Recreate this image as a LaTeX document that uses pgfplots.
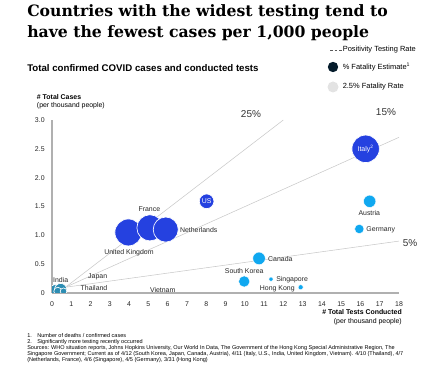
\documentclass[border=0pt]{standalone}
\usepackage{fontspec}
\setmainfont{Liberation Sans}
\newfontfamily\titlefont{DejaVu Serif}
\usepackage{pgfplots}
\pgfplotsset{compat=1.18}
\definecolor{royal}{HTML}{2541E0}
\definecolor{sky}{HTML}{10A8F0}
\definecolor{teal}{HTML}{2C8DB3}
\definecolor{navy}{HTML}{051C2C}
\definecolor{lgray}{HTML}{E3E3E3}
\definecolor{axgray}{HTML}{B0B0B0}
\definecolor{refgray}{HTML}{C8C8C8}
\pgfplotstableread{
x y r
3.96 1.05 10.1
5.08 1.13 9.8
5.90 1.10 9.4
8.02 1.59 5.5
16.27 2.50 10.3
}\bigdata
\pgfplotstableread{
x y r
16.48 1.59 4.6
15.94 1.11 3.5
10.74 0.60 4.7
9.97 0.20 4.2
11.36 0.24 1.6
12.90 0.10 1.9
}\smalldata
\pgfplotstableread{
x y r
0.15 0.05 4.2
0.45 0.06 4.6
0.30 0.03 3.0
0.60 0.03 2.5
}\tealdata
\begin{document}
\begin{tikzpicture}
\begin{scope}[x=0.75pt,y=-0.75pt]
\path[use as bounding box] (0,0) rectangle (425,366);
\node[anchor=base west, inner sep=0pt, font=\titlefont\bfseries\fontsize{11.75}{14}\selectfont] at (27,17) {Countries with the widest testing tend to};
\node[anchor=base west, inner sep=0pt, font=\titlefont\bfseries\fontsize{11.75}{14}\selectfont] at (27,37.5) {have the fewest cases per 1,000 people};
\node[anchor=base west, inner sep=0pt, font=\bfseries\fontsize{7.25}{8}\selectfont] at (27,71.7) {Total confirmed COVID cases and conducted tests};
\node[anchor=base west, inner sep=0pt, font=\bfseries\fontsize{5.2}{6}\selectfont] at (36.7,99.3) {\# Total Cases};
\node[anchor=base west, inner sep=0pt, font=\fontsize{5.2}{6}\selectfont] at (36.7,108) {(per thousand people)};
\node[anchor=base east, inner sep=0pt, font=\bfseries\fontsize{5.2}{6}\selectfont] at (402,315) {\# Total Tests Conducted};
\node[anchor=base east, inner sep=0pt, font=\fontsize{5.2}{6}\selectfont] at (402,324) {(per thousand people)};
% legend
\draw[gray!70!black, dash pattern=on 2.2pt off 1.2pt, line width=0.45pt] (330,50) -- (341.5,50);
\node[anchor=west, inner sep=0pt, font=\fontsize{5.6}{6}\selectfont] at (342.5,50) {Positivity Testing Rate};
\fill[navy] (333,67) circle (5.2);
\node[anchor=west, inner sep=0pt, font=\fontsize{5.6}{6}\selectfont] at (342.5,67) {\% Fatality Estimate\textsuperscript{1}};
\fill[lgray] (333,87) circle (5.5);
\node[anchor=west, inner sep=0pt, font=\fontsize{5.6}{6}\selectfont] at (342.5,87) {2.5\% Fatality Rate};
% footnotes
\begin{scope}[font=\fontsize{4.15}{4.5}\selectfont]
\node[anchor=base west, inner sep=0pt] at (27,338) {1.};
\node[anchor=base west, inner sep=0pt] at (37,338) {Number of deaths / confirmed cases};
\node[anchor=base west, inner sep=0pt] at (27,343.5) {2.};
\node[anchor=base west, inner sep=0pt] at (37,343.5) {Significantly more testing recently occurred};
\node[anchor=base west, inner sep=0pt] at (27,350) {Sources: WHO situation reports, Johns Hopkins University, Our World In Data, The Government of the Hong Kong Special Administrative Region, The};
\node[anchor=base west, inner sep=0pt] at (27,356) {Singapore Government; Current as of 4/12 (South Korea, Japan, Canada, Austria), 4/11 (Italy, U.S., India, United Kingdom, Vietnam). 4/10 (Thailand), 4/7};
\node[anchor=base west, inner sep=0pt] at (27,362) {(Netherlands, France), 4/6 (Singapore), 4/5 (Germany), 3/31 (Hong Kong)};
\end{scope}
\end{scope}
\begin{axis}[
  at={(39pt,-219.75pt)}, anchor=south west,
  scale only axis, width=260.25pt, height=129.75pt,
  xmin=0, xmax=18, ymin=0, ymax=3,
  axis lines*=left,
  axis line style={axgray, line width=1pt},
  major tick length=0pt,
  xtick={0,1,...,18}, ytick={0,0.5,1,1.5,2,2.5,3},
  yticklabels={0,0.5,1.0,1.5,2.0,2.5,3.0},
  tick label style={font=\fontsize{5.2}{6}\selectfont, text=black!85},
  /pgf/number format/assume math mode=true,
  xticklabel style={yshift=-3pt},
  yticklabel style={xshift=-2pt},
  clip marker paths=true,
  clip=true,
]
% positivity reference lines
\addplot[refgray, line width=0.4pt] coordinates {(0.7,0.1) (12,3)};
\addplot[refgray, line width=0.4pt] coordinates {(0.7,0.1) (18,2.7)};
\addplot[refgray, line width=0.4pt] coordinates {(0.7,0.1) (18,0.9)};
% bubbles
\addplot[scatter, only marks, mark=*,
  visualization depends on={\thisrow{r} \as \rr},
  scatter/use mapped color={draw=white, fill=teal, line width=0.5pt},
  scatter/@pre marker code/.append style={/tikz/mark size=\rr}]
  table[x=x,y=y] {\tealdata};
\addplot[scatter, only marks, mark=*,
  visualization depends on={\thisrow{r} \as \rr},
  scatter/use mapped color={draw=white, fill=royal, line width=0.5pt},
  scatter/@pre marker code/.append style={/tikz/mark size=\rr}]
  table[x=x,y=y] {\bigdata};
\addplot[scatter, only marks, mark=*,
  visualization depends on={\thisrow{r} \as \rr},
  scatter/use mapped color={draw=white, fill=sky, line width=0.3pt},
  scatter/@pre marker code/.append style={/tikz/mark size=\rr}]
  table[x=x,y=y] {\smalldata};
% labels
\begin{scope}[every node/.style={font=\fontsize{5.2}{6}\selectfont, inner sep=0pt, text=black!85}]
\node[text=white] at (axis cs:8.02,1.59) {US};
\node[text=white] at (axis cs:16.27,2.50) {Italy\textsuperscript{2}};
\node at (axis cs:5.05,1.45) {France};
\node at (axis cs:7.61,1.09) {Netherlands};
\node at (axis cs:3.99,0.70) {United Kingdom};
\node at (axis cs:0.45,0.225) {India};
\node at (axis cs:2.37,0.28) {Japan};
\node at (axis cs:2.18,0.08) {Thailand};
\node at (axis cs:5.74,0.06) {Vietnam};
\node at (axis cs:16.46,1.38) {Austria};
\node[anchor=west] at (axis cs:16.3,1.10) {Germany};
\node[anchor=west] at (axis cs:11.2,0.595) {Canada};
\node at (axis cs:9.97,0.38) {South Korea};
\node[anchor=west] at (axis cs:11.62,0.225) {Singapore};
\node[anchor=east] at (axis cs:12.6,0.075) {Hong Kong};
\end{scope}
\end{axis}
\begin{scope}[x=0.75pt,y=-0.75pt]
\node[font=\fontsize{7.5}{9}\selectfont, text=black!80] at (251,114) {25\%};
\node[font=\fontsize{7.5}{9}\selectfont, text=black!80] at (386,112) {15\%};
\node[font=\fontsize{7.5}{9}\selectfont, text=black!80] at (410,243) {5\%};
\end{scope}
\end{tikzpicture}
\end{document}
